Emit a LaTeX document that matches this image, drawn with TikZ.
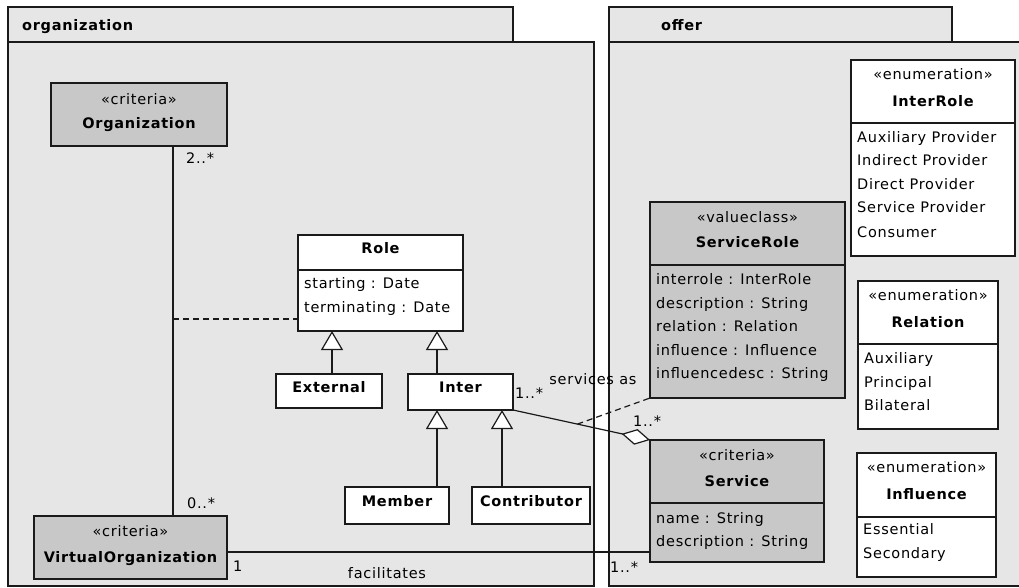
\documentclass[tikz,border=0pt]{standalone}
\usepackage{fontspec}
\setmainfont{DejaVu Sans}[LetterSpace=5]
\usetikzlibrary{arrows.meta}
\definecolor{pkgfill}{HTML}{E6E6E6}
\definecolor{clsgray}{HTML}{C8C8C8}
\definecolor{ln}{HTML}{1A1A1A}
\newcommand{\fs}{\fontsize{14.5}{16}\selectfont}
\tikzset{
  pkg/.style={draw=ln, line width=1.3pt, fill=pkgfill},
  box/.style={draw=ln, line width=1.4pt, anchor=north west, inner sep=0pt, outer sep=0pt},
  wbox/.style={box, fill=white},
  gbox/.style={box, fill=clsgray},
  divl/.style={draw=ln, line width=1.4pt},
  txt/.style={inner sep=0pt, anchor=mid west, font=\fs, yshift=-2.5pt},
  ctxt/.style={inner sep=0pt, anchor=mid, font=\fs, yshift=-2.5pt},
  nm/.style={inner sep=0pt, anchor=mid, font=\fs\bfseries, yshift=-2.5pt},
  conn/.style={draw=ln, line width=1.2pt},
  gen/.style={conn, -{Triangle[width=22pt,length=19pt,fill=white,line width=1.2pt]}},
  agg/.style={conn, -{Diamond[width=16pt,length=29pt,fill=white,line width=1.2pt]}},
  assocdash/.style={conn, dash pattern=on 6pt off 4pt},
}
\begin{document}
\begin{tikzpicture}[x=1pt,y=-1pt]
\useasboundingbox (0,0) rectangle (1019,588);
\fill[white] (0,0) rectangle (1019,588);
% packages
\draw[pkg] (8,7) rectangle (513,42);
\draw[pkg] (8,42) rectangle (594,586);
\draw[pkg] (609,7) rectangle (952,42);
\draw[pkg] (609,42) rectangle (1030,586);
\node[txt, font=\fs\bfseries] (orgtitle) at (22,25) {organization};
\node[txt, font=\fs\bfseries] (offertitle) at (661,25) {offer};

% Organization
\node[gbox, minimum width=176pt, minimum height=63pt] (org) at (51,83) {};
\node[ctxt] (orgst) at (139,99) {«criteria»};
\node[nm] (orgnm) at (139,123) {Organization};

% VirtualOrganization
\node[gbox, minimum width=193pt, minimum height=63pt] (vo) at (34,516) {};
\node[ctxt] (vost) at (130.5,531) {«criteria»};
\node[nm] (vonm) at (130.5,557) {VirtualOrganization};

% Role
\node[wbox, minimum width=165pt, minimum height=96pt] (role) at (298,235) {};
\draw[divl] (298,270) -- (463,270);
\node[nm] (rolenm) at (380.5,248) {Role};
\node[txt] (rolea1) at (304,283) {starting : Date};
\node[txt] (rolea2) at (304,307) {terminating : Date};

% External, Inter, Member, Contributor
\node[wbox, minimum width=106pt, minimum height=34pt] (external) at (276,374) {};
\node[nm] (externalnm) at (329,387) {External};
\node[wbox, minimum width=105pt, minimum height=36pt] (inter) at (408,374) {};
\node[nm] (internm) at (460.5,387) {Inter};
\node[wbox, minimum width=104pt, minimum height=37pt] (member) at (345,487) {};
\node[nm] (membernm) at (397,501) {Member};
\node[wbox, minimum width=118pt, minimum height=37pt] (contrib) at (472,487) {};
\node[nm] (contribnm) at (531,501) {Contributor};

% ServiceRole
\node[gbox, minimum width=195pt, minimum height=196pt] (servicerole) at (650,202) {};
\draw[divl] (650,265) -- (845,265);
\node[ctxt] (srst) at (747.5,217) {«valueclass»};
\node[nm] (srnm) at (747.5,242) {ServiceRole};
\node[txt] (sra1) at (656,279) {interrole : InterRole};
\node[txt] (sra2) at (656,303) {description : String};
\node[txt] (sra3) at (656,326) {relation : Relation};
\node[txt] (sra4) at (656,350) {influence : Influence};
\node[txt] (sra5) at (656,373) {influencedesc : String};

% Service
\node[gbox, minimum width=174pt, minimum height=122pt] (service) at (650,440) {};
\draw[divl] (650,503) -- (824,503);
\node[ctxt] (svst) at (737,455) {«criteria»};
\node[nm] (svnm) at (737,481) {Service};
\node[txt] (sva1) at (656,518) {name : String};
\node[txt] (sva2) at (656,541) {description : String};

% InterRole
\node[wbox, minimum width=164pt, minimum height=196pt] (interrole) at (851,60) {};
\draw[divl] (851,123) -- (1015,123);
\node[ctxt] (irst) at (933,74) {«enumeration»};
\node[nm] (irnm) at (933,101) {InterRole};
\node[txt] (ira1) at (857,137) {Auxiliary Provider};
\node[txt] (ira2) at (857,160) {Indirect Provider};
\node[txt] (ira3) at (857,184) {Direct Provider};
\node[txt] (ira4) at (857,207) {Service Provider};
\node[txt] (ira5) at (857,232) {Consumer};

% Relation
\node[wbox, minimum width=140pt, minimum height=148pt] (relation) at (858,281) {};
\draw[divl] (858,344) -- (998,344);
\node[ctxt] (rlst) at (928,295) {«enumeration»};
\node[nm] (rlnm) at (928,322) {Relation};
\node[txt] (rla1) at (864,358) {Auxiliary};
\node[txt] (rla2) at (864,382) {Principal};
\node[txt] (rla3) at (864,405) {Bilateral};

% Influence
\node[wbox, minimum width=139pt, minimum height=124pt] (influence) at (857,453) {};
\draw[divl] (857,517) -- (996,517);
\node[ctxt] (inst) at (926.5,467) {«enumeration»};
\node[nm] (innm) at (926.5,494) {Influence};
\node[txt] (ina1) at (863,529) {Essential};
\node[txt] (ina2) at (863,553) {Secondary};

% Organization -- VirtualOrganization
\coordinate (ox) at (173,0);
\draw[conn] (org.south -| ox) -- (vo.north -| ox);
\node[txt] (m1) at (186,158) {2..*};
\node[txt] (m2) at (187,503) {0..*};
\coordinate (acl) at (173,319);
\draw[assocdash] (acl) -- (role.west |- acl);

% generalizations
\coordinate (g1) at (332,0);
\coordinate (g2) at (437,0);
\coordinate (g3) at (502,0);
\draw[gen] (external.north -| g1) -- (role.south -| g1);
\draw[gen] (inter.north -| g2) -- (role.south -| g2);
\draw[gen] (member.north -| g2) -- (inter.south -| g2);
\draw[gen] (contrib.north -| g3) -- (inter.south -| g3);

% Inter -- Service
\draw[agg] (inter.south east) -- coordinate[pos=0.47] (amid) (service.north west);
\node[txt] (m3) at (515,393) {1..*};
\node[txt] (m4) at (633,421) {1..*};
\node[ctxt] (svas) at (593,379) {services as};
\draw[assocdash] (amid) -- (servicerole.south west);

% facilitates
\coordinate (fy) at (0,552);
\draw[conn] (vo.east |- fy) -- (service.west |- fy);
\node[txt] (m5) at (233,566) {1};
\node[ctxt] (fac) at (387,573) {facilitates};
\node[txt] (m6) at (610,567) {1..*};
\end{tikzpicture}
\end{document}
